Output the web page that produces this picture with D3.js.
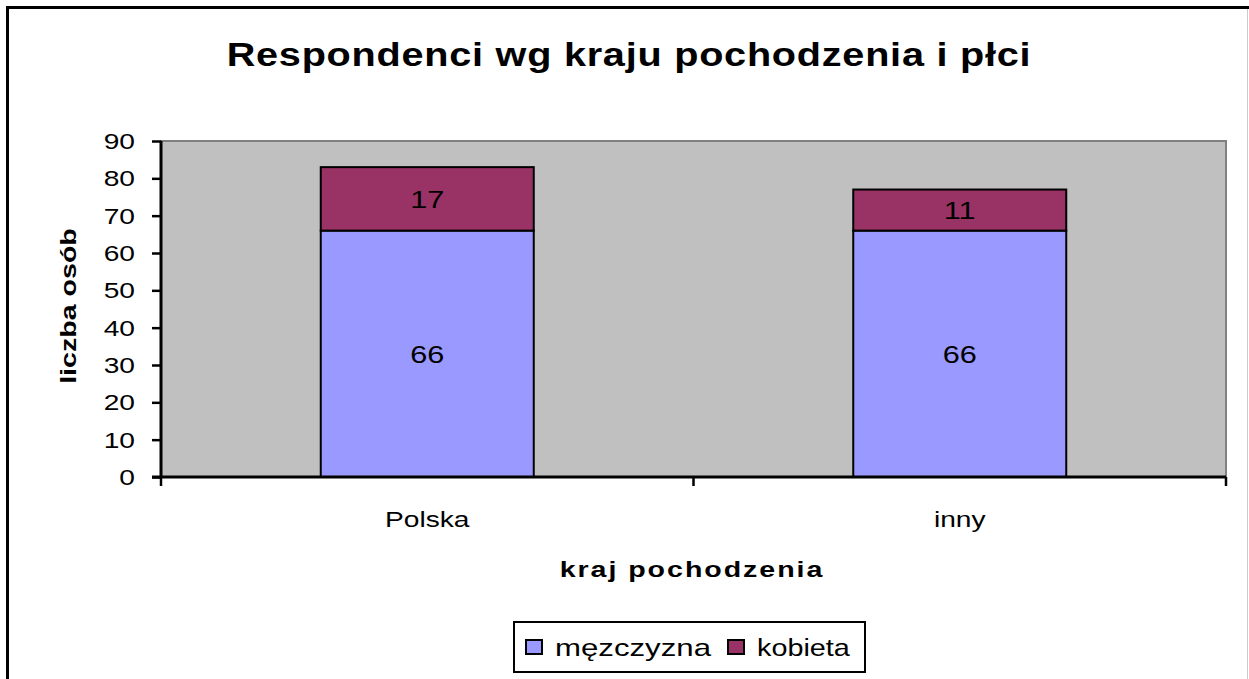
<!DOCTYPE html>
<html>
<head>
<meta charset="utf-8">
<script src="https://cdn.jsdelivr.net/npm/d3@7"></script>
<style>
  body { margin: 0; background: #fff; }
  text { font-family: "Liberation Sans", Arial, sans-serif; }
</style>
</head>
<body>
<svg></svg>
<script>
const categories = ["Polska", "inny"];
const mezczyzna = [66, 66];
const kobieta = [17, 11];
const seriesNames = ["męzczyzna", "kobieta"];
const seriesColors = ["#9999FF", "#993366"];
const yTicks = [0, 10, 20, 30, 40, 50, 60, 70, 80, 90];

const width = 1249;
const height = 679;
const plot = { left: 161, top: 141, right: 1226, bottom: 477 };
const stretch = 1.28; // the original text is drawn wide

const svg = d3.select("svg").attr("width", width).attr("height", height);

// text drawn with a horizontal stretch, like the exported chart
function addText(parent, x, y, str, opt) {
  let o = Object.assign({ size: 22, weight: "normal", anchor: "middle", sx: stretch, rotate: 0, ls: 0 }, opt);
  let g = parent.append("g")
    .attr("transform", `translate(${x},${y}) rotate(${o.rotate}) scale(${o.sx},1)`);
  return g.append("text")
    .attr("text-anchor", o.anchor)
    .attr("font-size", o.size)
    .attr("font-weight", o.weight)
    .attr("letter-spacing", o.ls)
    .attr("fill", "#000")
    .text(str);
}

// outer frame
svg.append("rect").attr("x", 0).attr("y", 0).attr("width", width).attr("height", height).attr("fill", "#fff");
svg.append("line").attr("x1", 7.5).attr("x2", 7.5).attr("y1", 6).attr("y2", height).attr("stroke", "#000").attr("stroke-width", 3);
svg.append("line").attr("x1", 6).attr("x2", width).attr("y1", 7.5).attr("y2", 7.5).attr("stroke", "#000").attr("stroke-width", 3);
svg.append("line").attr("x1", 1247.5).attr("x2", 1247.5).attr("y1", 9).attr("y2", height).attr("stroke", "#ccc").attr("stroke-width", 1);

let x = d3.scaleBand().domain(categories).range([plot.left, plot.right]).paddingInner(0.6).paddingOuter(0.3);
let y = d3.scaleLinear().domain([0, 90]).range([plot.bottom, plot.top]);

// plot area
svg.append("rect")
  .attr("x", plot.left).attr("y", plot.top)
  .attr("width", plot.right - plot.left).attr("height", plot.bottom - plot.top)
  .attr("fill", "#C0C0C0").attr("stroke", "#808080").attr("stroke-width", 2);

let stackData = categories.map((c, i) => ({ cat: c, [seriesNames[0]]: mezczyzna[i], [seriesNames[1]]: kobieta[i] }));
let stacked = d3.stack().keys(seriesNames)(stackData);

stacked.forEach((layer, i) => {
  let g = svg.append("g").attr("fill", seriesColors[i]);
  g.selectAll("rect")
    .data(layer)
    .enter()
    .append("rect")
    .attr("x", (d) => x(d.data.cat))
    .attr("y", (d) => y(d[1]))
    .attr("width", x.bandwidth())
    .attr("height", (d) => y(d[0]) - y(d[1]))
    .attr("stroke", "#000")
    .attr("stroke-width", 2);
  layer.forEach((d) => {
    addText(svg, x(d.data.cat) + x.bandwidth() / 2, (y(d[0]) + y(d[1])) / 2 + 9, d[1] - d[0], { size: 24 });
  });
});

// y axis
let yAxis = d3.axisLeft(y).tickValues(yTicks).tickSize(9).tickFormat("");
let gy = svg.append("g").attr("transform", `translate(${plot.left},0)`).call(yAxis);
gy.select(".domain").attr("stroke-width", 3).attr("d", `M0,${plot.top}V${plot.bottom}`);
gy.selectAll(".tick line").attr("stroke-width", 2.5);
yTicks.forEach((t) => addText(svg, plot.left - 26, y(t) + 8, t, { anchor: "end", size: 22 }));

// x axis
let xEdges = d3.scaleLinear().domain([0, 2]).range([plot.left, plot.right]);
let gx = svg.append("g").attr("transform", `translate(0,${plot.bottom})`);
gx.append("line").attr("x1", plot.left - 9).attr("x2", plot.right).attr("y1", 0).attr("y2", 0)
  .attr("stroke", "#000").attr("stroke-width", 3);
gx.selectAll(".edge")
  .data([0, 1, 2])
  .enter()
  .append("line")
  .attr("x1", (d) => xEdges(d)).attr("x2", (d) => xEdges(d))
  .attr("y1", 0).attr("y2", 9)
  .attr("stroke", "#000").attr("stroke-width", 2.5);
categories.forEach((c) => addText(svg, x(c) + x.bandwidth() / 2, 527, c, { size: 22 }));

// titles
addText(svg, 629, 66, "Respondenci wg kraju pochodzenia i płci", { size: 33, weight: "bold", sx: 1.2, ls: 0.65 });
addText(svg, 692, 577, "kraj pochodzenia", { size: 22, weight: "bold", sx: 1.3, ls: 1.5 });
addText(svg, 76, 306, "liczba osób", { size: 22, weight: "bold", rotate: -90, sx: 1.3 });

// legend
let legend = svg.append("g").attr("transform", "translate(514,622)");
legend.append("rect").attr("width", 351).attr("height", 50).attr("fill", "#fff").attr("stroke", "#000").attr("stroke-width", 2);
let legendX = [12, 214];
seriesNames.forEach((name, i) => {
  legend.append("rect")
    .attr("x", legendX[i]).attr("y", 18).attr("width", 16).attr("height", 14)
    .attr("fill", seriesColors[i]).attr("stroke", "#000").attr("stroke-width", 2);
  addText(legend, legendX[i] + 29, 34, name, { size: 24, anchor: "start", sx: i === 0 ? 1.3 : 1.2 });
});
</script>
</body>
</html>
